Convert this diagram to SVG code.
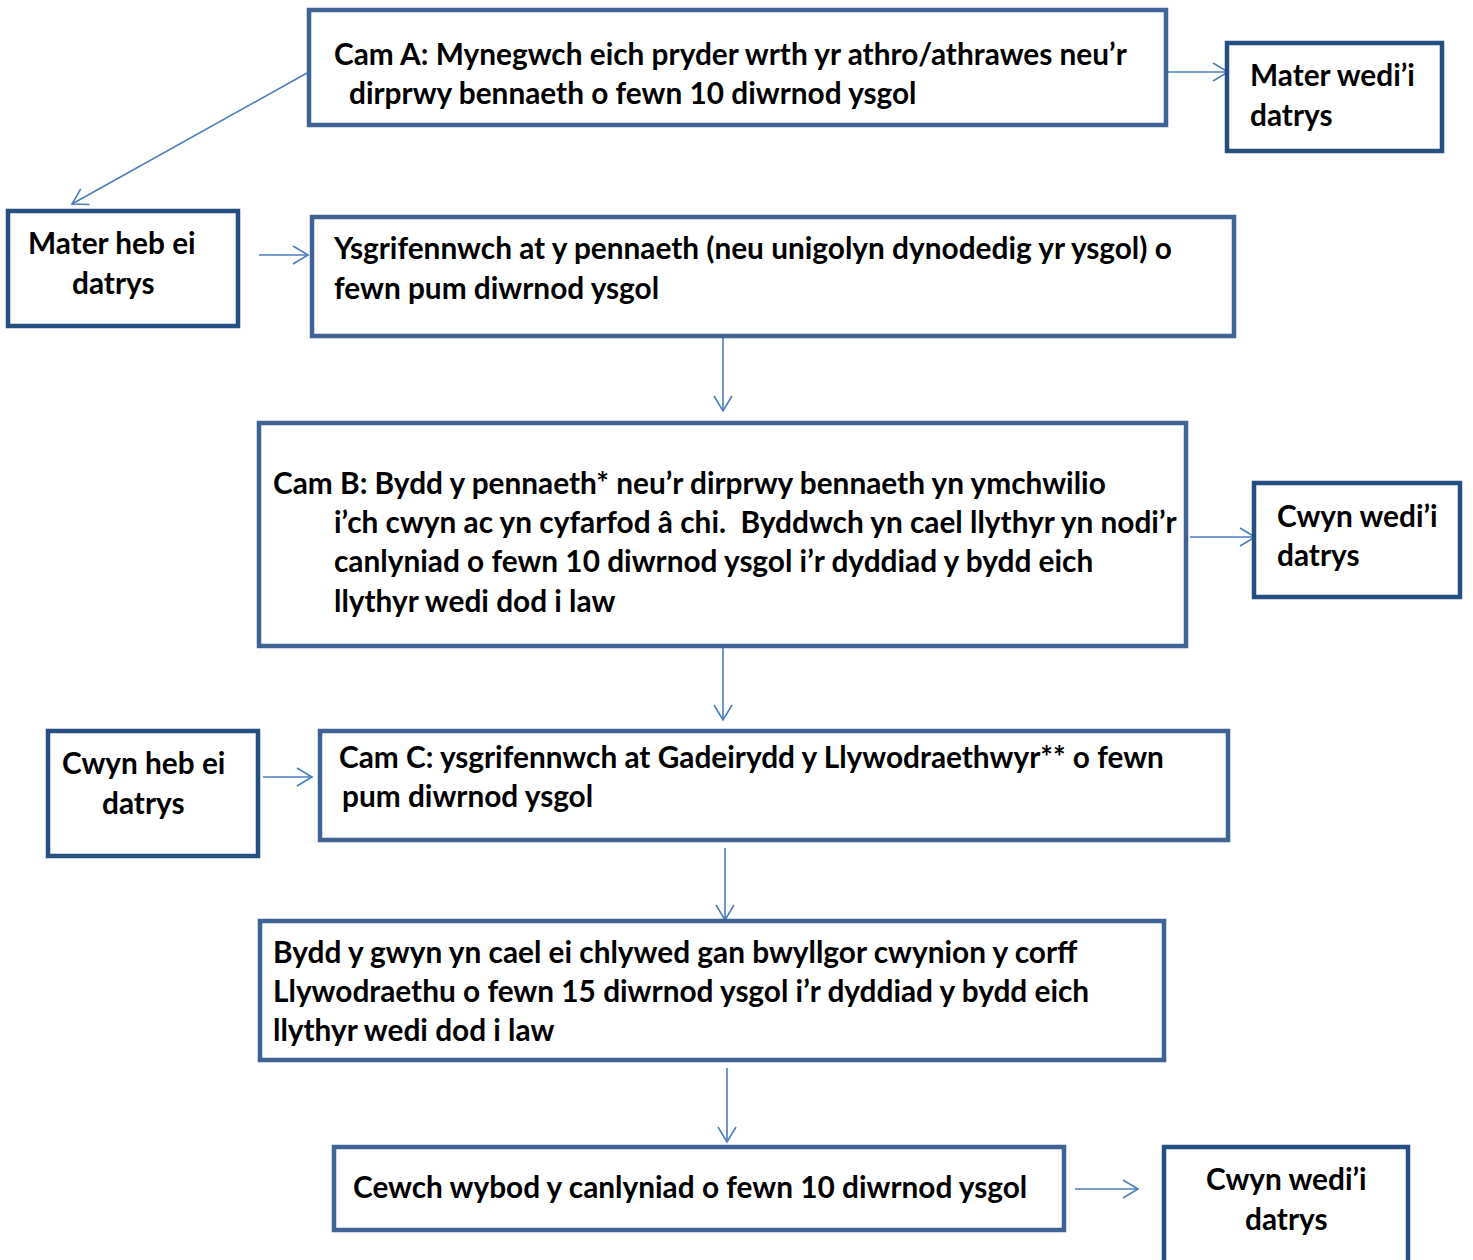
<svg xmlns="http://www.w3.org/2000/svg" width="1473" height="1260" viewBox="0 0 1473 1260">
<style>
.main{fill:#fff;stroke:#3f6394;stroke-width:4.5}
.side{fill:#fff;stroke:#254e82;stroke-width:4.5}
text{font-family:Lato,"Open Sans","Liberation Sans",sans-serif;font-weight:700;font-size:29.8px;fill:#000}
.c line{stroke:#4a7ebb;stroke-width:1.6;fill:none}
</style>
<defs>
<marker id="ah" viewBox="0 0 20 20" refX="18" refY="10" markerWidth="20" markerHeight="20" markerUnits="userSpaceOnUse" orient="auto">
<path d="M3,1 L18,10 L3,19" fill="none" stroke="#4a7ebb" stroke-width="1.6"/>
</marker>
</defs>
<rect width="1473" height="1260" fill="#fff"/>
<g class="c" id="connectors">
<line x1="307" y1="73" x2="72" y2="204" marker-end="url(#ah)"/>
<line x1="1168" y1="72" x2="1228" y2="72" marker-end="url(#ah)"/>
<line x1="259" y1="255" x2="308" y2="255" marker-end="url(#ah)"/>
<line x1="723" y1="338" x2="723" y2="411" marker-end="url(#ah)"/>
<line x1="1190" y1="537" x2="1255" y2="537" marker-end="url(#ah)"/>
<line x1="723" y1="648" x2="723" y2="720" marker-end="url(#ah)"/>
<line x1="263" y1="777" x2="312" y2="777" marker-end="url(#ah)"/>
<line x1="725" y1="848" x2="725" y2="920" marker-end="url(#ah)"/>
<line x1="727" y1="1068" x2="727" y2="1142" marker-end="url(#ah)"/>
<line x1="1075" y1="1189" x2="1138" y2="1189" marker-end="url(#ah)"/>
</g>
<g id="camA">
<rect class="main" x="309" y="10" width="857" height="115"/>
<text x="334" y="65">Cam A: Mynegwch eich pryder wrth yr athro/athrawes neu’r</text>
<text x="349" y="104">dirprwy bennaeth o fewn 10 diwrnod ysgol</text>
</g>
<g id="materWedi">
<rect class="side" x="1227" y="43" width="215" height="108"/>
<text x="1250" y="86">Mater wedi’i</text>
<text x="1250" y="126">datrys</text>
</g>
<g id="materHeb">
<rect class="side" x="8" y="211" width="230" height="115"/>
<text x="28" y="254">Mater heb ei</text>
<text x="72" y="294">datrys</text>
</g>
<g id="ysgrifennwch">
<rect class="main" x="312" y="217" width="922" height="119"/>
<text x="334" y="259">Ysgrifennwch at y pennaeth (neu unigolyn dynodedig yr ysgol) o</text>
<text x="334" y="299">fewn pum diwrnod ysgol</text>
</g>
<g id="camB">
<rect class="main" x="259" y="423" width="927" height="223"/>
<text x="273" y="494">Cam B: Bydd y pennaeth* neu’r dirprwy bennaeth yn ymchwilio</text>
<text x="334" y="533" xml:space="preserve">i’ch cwyn ac yn cyfarfod â chi.  Byddwch yn cael llythyr yn nodi’r</text>
<text x="334" y="572">canlyniad o fewn 10 diwrnod ysgol i’r dyddiad y bydd eich</text>
<text x="334" y="612">llythyr wedi dod i law</text>
</g>
<g id="cwynWedi1">
<rect class="side" x="1254" y="483" width="206" height="114"/>
<text x="1277" y="527">Cwyn wedi’i</text>
<text x="1277" y="566">datrys</text>
</g>
<g id="cwynHeb">
<rect class="side" x="48" y="731" width="210" height="125"/>
<text x="62" y="774">Cwyn heb ei</text>
<text x="102" y="814">datrys</text>
</g>
<g id="camC">
<rect class="main" x="320" y="731" width="908" height="109"/>
<text x="339" y="768">Cam C: ysgrifennwch at Gadeirydd y Llywodraethwyr** o fewn</text>
<text x="342" y="807">pum diwrnod ysgol</text>
</g>
<g id="bydd">
<rect class="main" x="260" y="921" width="904" height="139"/>
<text x="273" y="963">Bydd y gwyn yn cael ei chlywed gan bwyllgor cwynion y corff</text>
<text x="273" y="1002">Llywodraethu o fewn 15 diwrnod ysgol i’r dyddiad y bydd eich</text>
<text x="273" y="1041">llythyr wedi dod i law</text>
</g>
<g id="cewch">
<rect class="main" x="334" y="1147" width="730" height="83"/>
<text x="353" y="1198">Cewch wybod y canlyniad o fewn 10 diwrnod ysgol</text>
</g>
<g id="cwynWedi2">
<rect class="side" x="1164" y="1147" width="244" height="120"/>
<text x="1206" y="1190">Cwyn wedi’i</text>
<text x="1245" y="1230">datrys</text>
</g>
</svg>
